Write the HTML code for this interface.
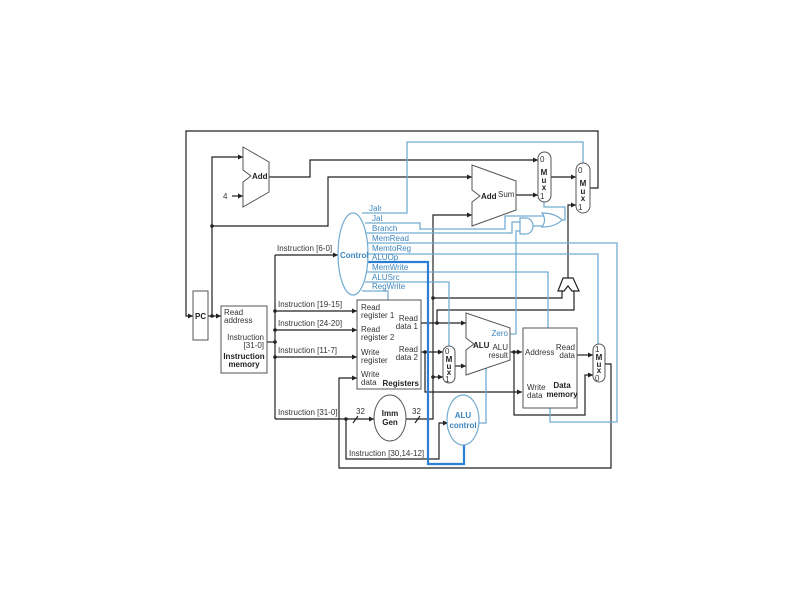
<!DOCTYPE html>
<html><head><meta charset="utf-8"><style>
html,body{margin:0;padding:0;background:#fff;width:800px;height:600px;overflow:hidden}
svg{display:block}
text{font-family:"Liberation Sans",sans-serif;font-size:8px;fill:#333}
.b{font-weight:bold;fill:#222}
.bl{fill:#3d84bd}
.k{stroke:#222;stroke-width:1.2;fill:none}
.c{stroke:#72acd2;stroke-width:1.3;fill:none}
.t{stroke:#2a7fd4;stroke-width:2.2;fill:none}
</style></head><body>
<svg width="800" height="600" viewBox="0 0 800 600" xmlns="http://www.w3.org/2000/svg">
<defs>
<marker id="a" markerWidth="6" markerHeight="6" refX="5" refY="3" orient="auto" markerUnits="userSpaceOnUse"><path d="M0,0.5 L5,3 L0,5.5z" fill="#222"/></marker>
</defs>

<!-- black wires -->
<path class="k" d="M590,188 H598 V131 H186 V316 H193" marker-end="url(#a)"/>
<path class="k" d="M208,316 H221" marker-end="url(#a)"/>
<path class="k" d="M212,316 V157 H243" marker-end="url(#a)"/>
<path class="k" d="M212,226 H328 V177 H472" marker-end="url(#a)"/>
<path class="k" d="M269,177 H310 V160 H538" marker-end="url(#a)"/>
<path class="k" d="M232,196 H243" marker-end="url(#a)"/>
<path class="k" d="M516,195 H538" marker-end="url(#a)"/>
<path class="k" d="M551,177 H576" marker-end="url(#a)"/>
<path class="k" d="M568,278 V205 H576" marker-end="url(#a)"/>
<path class="k" d="M267,342 H275"/>
<path class="k" d="M275,255 V419"/>
<path class="k" d="M275,255 H338" marker-end="url(#a)"/>
<path class="k" d="M275,311 H357" marker-end="url(#a)"/>
<path class="k" d="M275,330 H357" marker-end="url(#a)"/>
<path class="k" d="M275,357 H357" marker-end="url(#a)"/>
<path class="k" d="M275,419 H374" marker-end="url(#a)"/>
<path class="k" d="M346,419 V459 H439 V423 H448" marker-end="url(#a)"/>
<path class="k" d="M353,423 l5,-7 M415,423 l5,-7" />
<path class="k" d="M406,419 H433 V215 H472" marker-end="url(#a)"/>
<path class="k" d="M433,298 H562 V291"/>
<path class="k" d="M433,377 H443" marker-end="url(#a)"/>
<path class="k" d="M421,323 H466" marker-end="url(#a)"/>
<path class="k" d="M437,323 V310 H574 V291"/>
<path class="k" d="M421,352 H443" marker-end="url(#a)"/>
<path class="k" d="M425,352 V392 H522" marker-end="url(#a)"/>
<path class="k" d="M455,366 H466" marker-end="url(#a)"/>
<path class="k" d="M510,352 H522" marker-end="url(#a)"/>
<path class="k" d="M514,352 V415 H585 V375 H593" marker-end="url(#a)"/>
<path class="k" d="M577,355 H593" marker-end="url(#a)"/>
<path class="k" d="M605,364 H611 V468 H339 V378 H357" marker-end="url(#a)"/>
<g fill="#222">
<circle cx="212" cy="316" r="1.8"/><circle cx="212" cy="226" r="1.8"/>
<circle cx="275" cy="342" r="1.8"/><circle cx="275" cy="311" r="1.8"/><circle cx="275" cy="330" r="1.8"/><circle cx="275" cy="357" r="1.8"/>
<circle cx="346" cy="419" r="1.8"/><circle cx="433" cy="298" r="1.8"/><circle cx="433" cy="377" r="1.8"/>
<circle cx="437" cy="323" r="1.8"/><circle cx="425" cy="352" r="1.8"/><circle cx="514" cy="352" r="1.8"/><circle cx="518" cy="352" r="1.8"/>
</g>

<path class="c" d="M362,213 H407 V142 H583 V163"/>
<path class="c" d="M365,223 H420 V229 H505 V216 H544"/>
<path class="c" d="M366,233 H512 V222 H522"/>
<path class="c" d="M367,243 H617 V422 H550 V408"/>
<path class="c" d="M367,254 H598 V345"/>
<path class="c" d="M367,272 H548 V328"/>
<path class="c" d="M365,282 H449 V346"/>
<path class="c" d="M362,291 H388 V300"/>
<path class="c" d="M510,334 H516 V231 H522"/>
<path class="c" d="M533,226 H544"/>
<path class="c" d="M561,220 H565 V207 H544 V202"/>
<path class="c" d="M486,368 V423 H479"/>
<path class="t" d="M367,262 H428 V464 H464 V445"/>

<rect x="193" y="291" width="15" height="49" fill="#fff" stroke="#555"/>
<text x="195" y="319" class="b">PC</text>
<rect x="221" y="306" width="46" height="67" fill="#fff" stroke="#555"/>
<text x="224" y="315">Read</text><text x="224" y="323">address</text>
<text x="264" y="340" text-anchor="end">Instruction</text><text x="264" y="348" text-anchor="end">[31-0]</text>
<text x="244" y="359" class="b" text-anchor="middle">Instruction</text><text x="244" y="367" class="b" text-anchor="middle">memory</text>

<path d="M243,147 L269,162 L269,192 L243,207 L243,182 L251,176 L243,170Z" fill="#fff" stroke="#555"/>
<text x="252" y="179" class="b">Add</text>
<text x="223" y="199">4</text>
<path d="M472,165 L516,181 L516,210 L472,226 L472,202 L480,196 L472,190Z" fill="#fff" stroke="#555"/>
<text x="481" y="199" class="b">Add</text><text x="498" y="197">Sum</text>

<rect x="538" y="152" width="13" height="50" rx="6.5" fill="#fff" stroke="#555"/>
<text x="540" y="162" font-size="7">0</text><text x="544" y="175" class="b" text-anchor="middle">M</text><text x="544" y="183" class="b" text-anchor="middle">u</text><text x="544" y="190" class="b" text-anchor="middle">x</text><text x="540" y="199" font-size="7">1</text>
<rect x="576" y="163" width="14" height="50" rx="7" fill="#fff" stroke="#555"/>
<text x="578" y="173" font-size="7">0</text><text x="583" y="186" class="b" text-anchor="middle">M</text><text x="583" y="194" class="b" text-anchor="middle">u</text><text x="583" y="201" class="b" text-anchor="middle">x</text><text x="578" y="210" font-size="7">1</text>
<rect x="443" y="346" width="12" height="37" rx="6" fill="#fff" stroke="#555"/>
<text x="445" y="354" font-size="7">0</text><text x="449" y="362" class="b" text-anchor="middle">M</text><text x="449" y="369" class="b" text-anchor="middle">u</text><text x="449" y="375" class="b" text-anchor="middle">x</text><text x="445" y="382" font-size="7">1</text>
<rect x="593" y="344" width="12" height="38" rx="6" fill="#fff" stroke="#555"/>
<text x="595" y="352" font-size="7">1</text><text x="599" y="360" class="b" text-anchor="middle">M</text><text x="599" y="367" class="b" text-anchor="middle">u</text><text x="599" y="373" class="b" text-anchor="middle">x</text><text x="595" y="381" font-size="7">0</text>

<path d="M520,218 H526 A7,8 0 0 1 526,234 H520Z" fill="#fff" stroke="#72acd2" stroke-width="1.2"/>
<path d="M542,213 Q555,213 562,220 Q555,227 542,227 Q547,220 542,213Z" fill="#fff" stroke="#72acd2" stroke-width="1.2"/>
<path d="M563,278 H573 L579,291 H572 L568,286 L564,291 H558Z" fill="#fff" stroke="#222" stroke-width="1.2"/>

<ellipse cx="353" cy="254" rx="15" ry="41" fill="#fff" stroke="#72acd2" stroke-width="1.2"/>
<text x="340" y="258" class="b bl">Control</text>
<text x="369" y="211" class="bl">Jalr</text>
<text x="372" y="221" class="bl">Jal</text>
<text x="372" y="231" class="bl">Branch</text>
<text x="372" y="241" class="bl">MemRead</text>
<text x="372" y="251" class="bl">MemtoReg</text>
<text x="372" y="260" class="bl">ALUOp</text>
<text x="372" y="270" class="bl">MemWrite</text>
<text x="372" y="280" class="bl">ALUSrc</text>
<text x="372" y="289" class="bl">RegWrite</text>
<text x="277" y="251">Instruction [6-0]</text>
<text x="278" y="307">Instruction [19-15]</text>
<text x="278" y="326">Instruction [24-20]</text>
<text x="278" y="353">Instruction [11-7]</text>
<text x="278" y="415">Instruction [31-0]</text>
<text x="349" y="456">Instruction [30,14-12]</text>
<text x="356" y="414">32</text><text x="412" y="414">32</text>

<rect x="357" y="300" width="64" height="89" fill="#fff" stroke="#555"/>
<text x="361" y="310">Read</text><text x="361" y="318">register 1</text>
<text x="361" y="332">Read</text><text x="361" y="340">register 2</text>
<text x="361" y="355">Write</text><text x="361" y="363">register</text>
<text x="361" y="377">Write</text><text x="361" y="385">data</text>
<text x="418" y="321" text-anchor="end">Read</text><text x="418" y="329" text-anchor="end">data 1</text>
<text x="418" y="352" text-anchor="end">Read</text><text x="418" y="360" text-anchor="end">data 2</text>
<text x="419" y="386" class="b" text-anchor="end">Registers</text>

<ellipse cx="390" cy="418" rx="16" ry="23" fill="#fff" stroke="#555"/>
<text x="390" y="416" class="b" text-anchor="middle">Imm</text><text x="390" y="425" class="b" text-anchor="middle">Gen</text>

<path d="M466,313 L510,328 L510,360 L466,375 L466,350 L474,344 L466,338Z" fill="#fff" stroke="#555"/>
<text x="473" y="348" class="b">ALU</text>
<text x="508" y="336" text-anchor="end" class="bl">Zero</text>
<text x="508" y="350" text-anchor="end">ALU</text><text x="508" y="358" text-anchor="end">result</text>
<ellipse cx="463" cy="420" rx="16" ry="25" fill="#fff" stroke="#72acd2" stroke-width="1.2"/>
<text x="463" y="418" class="b bl" text-anchor="middle">ALU</text><text x="463" y="428" class="b bl" text-anchor="middle">control</text>

<rect x="523" y="328" width="54" height="80" fill="#fff" stroke="#555"/>
<text x="525" y="355">Address</text>
<text x="575" y="350" text-anchor="end">Read</text><text x="575" y="358" text-anchor="end">data</text>
<text x="527" y="390">Write</text><text x="527" y="398">data</text>
<text x="562" y="388" class="b" text-anchor="middle">Data</text><text x="562" y="397" class="b" text-anchor="middle">memory</text>
</svg>
</body></html>
